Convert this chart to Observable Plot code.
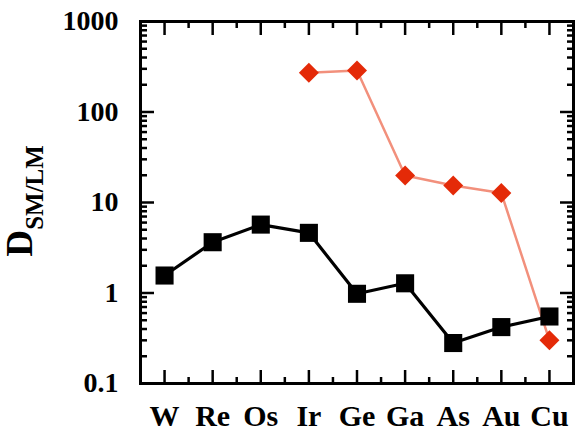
<!DOCTYPE html>
<html><head><meta charset="utf-8">
<script src="https://cdn.jsdelivr.net/npm/d3@7"></script>
<script src="https://cdn.jsdelivr.net/npm/@observablehq/plot@0.6"></script>
<style>
body{margin:0;background:#fff}
svg{font-family:"Liberation Serif","Times New Roman",serif;font-weight:bold;overflow:visible}
</style>
</head><body><div id="chart"></div>
<script>
const elements = ["W","Re","Os","Ir","Ge","Ga","As","Au","Cu"];
const blackValues = [1.56,3.64,5.7,4.62,0.98,1.28,0.28,0.42,0.55];
const redElements = ["Ir","Ge","Ga","As","Au","Cu"];
const redValues = [271,288,19.9,15.4,12.7,0.30];
const yMajorTicks = [0.1,1,10,100,1000];
const yTickLabels = ["0.1","1","10","100","1000"];

const blackData = elements.map((e,i)=>({i, v: blackValues[i]}));
const redData = redElements.map((e,k)=>({i: elements.indexOf(e), v: redValues[k]}));
const xMajor = d3.range(elements.length);
const xMinor = d3.range(elements.length - 1).map(i => i + 0.5);
const yMinor = [];
for (const d of [0.1,1,10,100]) for (let m=2;m<=9;m++) yMinor.push(+(d*m).toPrecision(3));

const red = "#e42a08";
const salmon = "#f2907c";
const tickW = 2.5;

const plot = Plot.plot({
  width: 575, height: 435,
  marginLeft: 140, marginRight: 2, marginTop: 21, marginBottom: 52,
  x: {type: "linear", domain: [-0.5, elements.length - 0.5]},
  y: {type: "log", domain: [0.1, 1000]},
  marks: [
    Plot.axisX(xMajor, {anchor: "bottom", tickSize: -13, strokeWidth: tickW, text: null, label: null}),
    Plot.axisX(xMinor, {anchor: "bottom", tickSize: -6, strokeWidth: tickW, text: null, label: null}),
    Plot.axisX(xMajor, {anchor: "top", tickSize: -13, strokeWidth: tickW, text: null, label: null}),
    Plot.axisX(xMinor, {anchor: "top", tickSize: -6, strokeWidth: tickW, text: null, label: null}),
    Plot.axisY(yMajorTicks, {anchor: "left", tickSize: -14, strokeWidth: tickW, text: null, label: null}),
    Plot.axisY(yMinor, {anchor: "left", tickSize: -7, strokeWidth: tickW, text: null, label: null}),
    Plot.axisY(yMajorTicks, {anchor: "right", tickSize: -14, strokeWidth: tickW, text: null, label: null}),
    Plot.axisY(yMinor, {anchor: "right", tickSize: -7, strokeWidth: tickW, text: null, label: null}),
    Plot.axisX(xMajor, {anchor: "bottom", tickSize: 0, tickPadding: 21, fontSize: 30, fill: "#000",
      tickFormat: i => elements[i], label: null}),
    Plot.axisY(yMajorTicks, {anchor: "left", tickSize: 0, tickPadding: 22, fontSize: 28, fill: "#000",
      tickFormat: d => yTickLabels[yMajorTicks.indexOf(d)], label: null}),
    Plot.text(["D"], {frameAnchor: "left", rotate: -90, dx: -120, dy: 41, fontSize: 37, fill: "#000", lineAnchor: "middle", textAnchor: "middle"}),
    Plot.text(["SM/LM"], {frameAnchor: "left", rotate: -90, dx: -106, dy: -15, fontSize: 25, fill: "#000", lineAnchor: "middle", textAnchor: "middle"}),
    Plot.line(redData, {x: "i", y: "v", stroke: salmon, strokeWidth: 2.5}),
    Plot.line(blackData, {x: "i", y: "v", stroke: "#000", strokeWidth: 3.2}),
    Plot.dot(blackData, {x: "i", y: "v", symbol: "square", r: 10.2, fill: "#000", stroke: null}),
    Plot.dot(redData, {x: "i", y: "v", symbol: "diamond2", r: 9, fill: red, stroke: null}),
    Plot.frame({stroke: "#000", strokeWidth: 3})
  ]
});
document.getElementById("chart").appendChild(plot);
</script>
</body></html>
